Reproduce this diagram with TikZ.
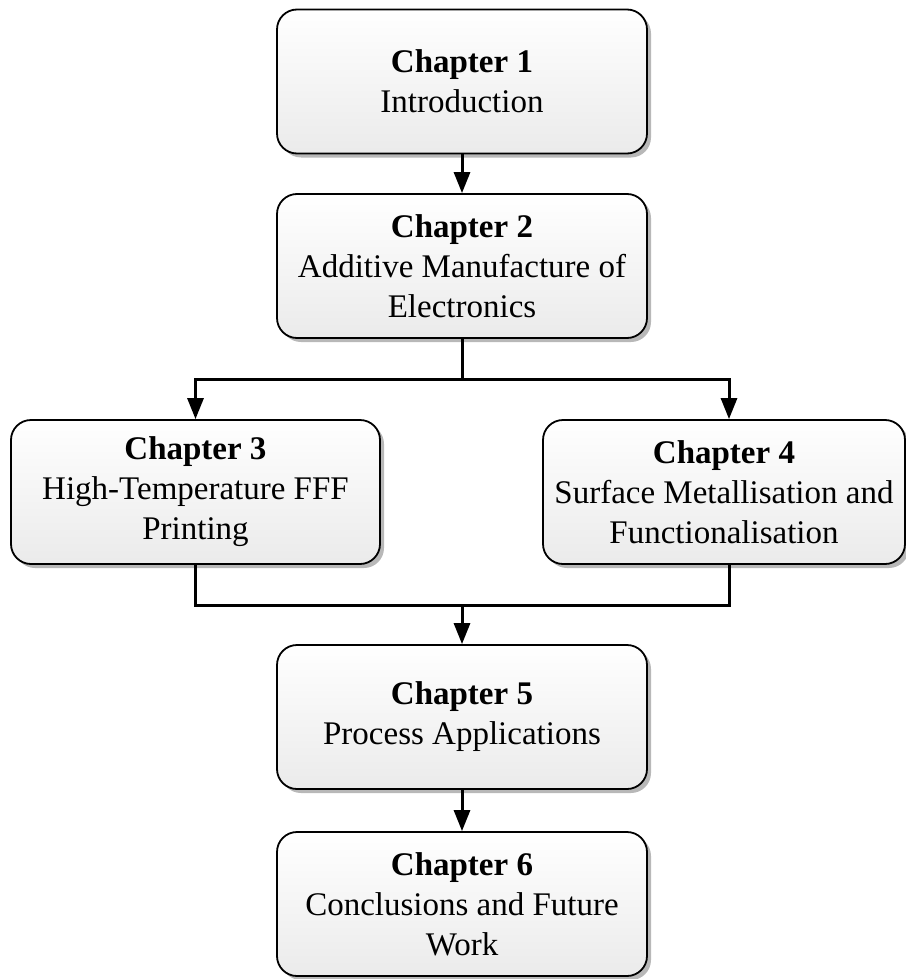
\documentclass[tikz,border=0pt]{standalone}
\usepackage{fontspec}
\setmainfont{Liberation Serif}
\usetikzlibrary{shadows,arrows.meta}
\begin{document}
\begin{tikzpicture}[x=1pt,y=-1pt,
  chapbox/.style={draw, line width=1.8pt, rounded corners=20pt,
    top color=white, bottom color=black!8,
    drop shadow={shadow xshift=4pt, shadow yshift=-4pt, fill=black!28, opacity=1},
    align=center, font=\fontsize{33}{40}\selectfont,
    minimum height=144pt, inner sep=0pt},
  conn/.style={line width=3pt},
  arr/.style={conn, -{Triangle[length=21pt,width=16pt]}}]
\useasboundingbox (0,0) rectangle (905,979);
\node[chapbox, minimum width=370pt] (c1) at (462,81.5) {\textbf{Chapter 1}\\Introduction};
\node[chapbox, minimum width=370pt] (c2) at (462,266) {\textbf{Chapter 2}\\Additive Manufacture of\\Electronics};
\node[chapbox, minimum width=369pt] (c3) at (195.5,492) {\textbf{Chapter 3}\\High-Temperature FFF\\Printing};
\node[chapbox, minimum width=362pt] (c4) at (724,492) {\textbf{Chapter 4}\\Surface Metallisation and\\Functionalisation};
\node[chapbox, minimum width=370pt] (c5) at (462,717) {\textbf{Chapter 5}\\Process Applications};
\node[chapbox, minimum width=370pt] (c6) at (462,904) {\textbf{Chapter 6}\\Conclusions and Future\\Work};
\coordinate (split) at (462,379);
\coordinate (merge) at (462,605);
\draw[arr] (c1.south) -- (c2.north);
\draw[conn] (c2.south) -- (split);
\draw[arr] (split) -| (c3.north);
\draw[arr] (split) -| ([xshift=5pt]c4.north);
\draw[conn] (c3.south) |- (merge);
\draw[conn] ([xshift=5pt]c4.south) |- (merge);
\draw[arr] (merge) -- (c5.north);
\draw[arr] (c5.south) -- (c6.north);
\end{tikzpicture}
\end{document}
